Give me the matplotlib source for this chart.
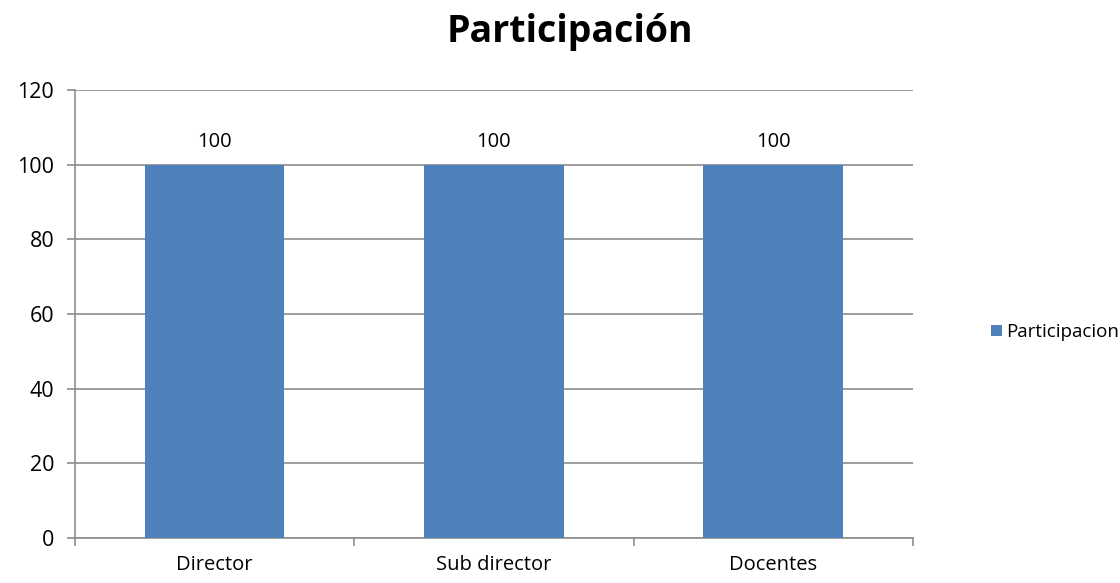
import matplotlib.pyplot as plt

categories = ["Director", "Sub director", "Docentes"]
values = [100, 100, 100]
series_name = "Participacion"
title = "Participación"

plt.rcParams['font.family'] = ['Open Sans', 'DejaVu Sans']

fig = plt.figure(figsize=(11.2, 5.83), dpi=100)
ax = fig.add_axes([0.067, 0.077, 0.748, 0.769])

grid_color = '#8c8c8c'
x = list(range(len(categories)))
bars = ax.bar(x, values, width=0.5, color='#4F81BD', label=series_name, zorder=3)
ax.bar_label(bars, labels=[str(v) for v in values], padding=9, fontsize=14.5)

ax.set_xlim(-0.5, len(categories) - 0.5)
ax.set_ylim(0, 120)
ax.set_yticks(range(0, 121, 20))
ax.yaxis.grid(True, color=grid_color, linewidth=1.2, zorder=0)

ax.set_xticks(x)
ax.set_xticklabels(categories, fontsize=14.5)
ax.set_xticks([i - 0.5 for i in range(len(categories) + 1)], minor=True)
ax.tick_params(axis='x', which='major', length=0, pad=12)
ax.tick_params(axis='x', which='minor', length=6, color=grid_color, width=1.2)
ax.tick_params(axis='y', length=6, color=grid_color, width=1.2, labelsize=15.5, pad=9)

for side in ['top', 'right']:
    ax.spines[side].set_visible(False)
for side in ['left', 'bottom']:
    ax.spines[side].set_color(grid_color)
    ax.spines[side].set_linewidth(1.2)

fig.text(0.509, 0.945, title, ha='center', va='center', fontsize=27, fontweight='bold')

fig.legend(loc='center left', bbox_to_anchor=(0.885, 0.43), frameon=False,
           fontsize=13.5, handlelength=0.55, handleheight=0.55, handletextpad=0.25,
           borderpad=0, borderaxespad=0)

fig.savefig("out.png", dpi=100)
